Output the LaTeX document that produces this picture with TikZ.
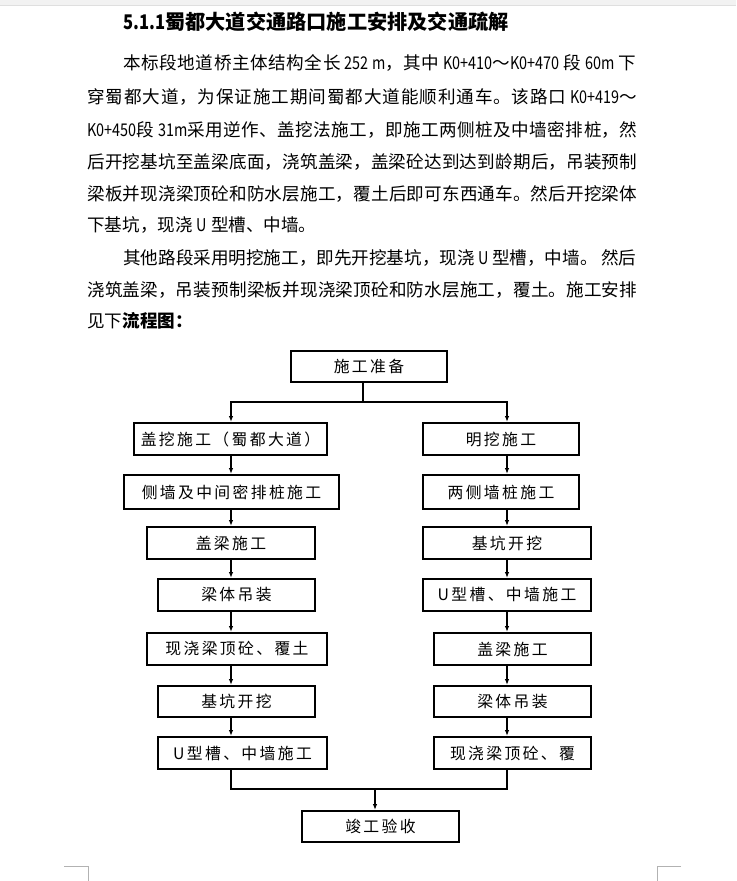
\documentclass[tikz,border=0pt]{standalone}
\usepackage{fontspec}
\setmainfont{Noto Sans CJK SC}
\newfontfamily\boxfont[LetterSpace=15]{Noto Sans CJK SC}
\newfontfamily\halffont[FakeStretch=0.82]{Noto Sans CJK SC}
\usetikzlibrary{arrows.meta}
\XeTeXlinebreaklocale "zh"
\XeTeXlinebreakskip=0pt plus 4pt
\newcommand{\hw}[1]{{\halffont #1}}
\newcommand{\jline}[2]{\parbox{#1}{\parfillskip=0pt\relax #2}}

\begin{document}
\begin{tikzpicture}[x=0.02cm,y=-0.02cm,
 stepbox/.style={draw,line width=1.1pt,minimum height=0.64cm,inner sep=0pt,align=center,font=\boxfont\fontsize{9}{10}\selectfont},
 bodyline/.style={anchor=west,inner sep=0pt,font=\fontsize{10}{12}\selectfont},
 ln/.style={line width=0.7pt},
 arr/.style={-{Latex[length=1.2mm,width=0.9mm]},line width=0.7pt}]
\useasboundingbox (0,0) rectangle (736,881);
\fill[gray!10] (0,0) rectangle (736,5);
\draw[gray!25] (0,5) -- (736,5);

% text above the chart
\node[bodyline,font=\bfseries\fontsize{11.5}{13}\selectfont] (title) at (123,22) {\hw{5.1.1}蜀都大道交通路口施工安排及交通疏解};
\node[bodyline] (ln1) at (123,63) {\jline{10.26cm}{本标段地道桥主体结构全长 \hw{252 m}，其中 \hw{K0+410}～\hw{K0+470} 段 \hw{60m} 下}};
\node[bodyline] (ln2) at (87,97) {\jline{11cm}{穿蜀都大道，为保证施工期间蜀都大道能顺利通车。该路口 \hw{K0+419}～}};
\node[bodyline] (ln3) at (87,130) {\jline{11cm}{\hw{K0+450}段 \hw{31m}采用逆作、盖挖法施工，即施工两侧桩及中墙密排桩，然}};
\node[bodyline] (ln4) at (87,162) {\jline{11cm}{后开挖基坑至盖梁底面，浇筑盖梁，盖梁砼达到达到龄期后，吊装预制}};
\node[bodyline] (ln5) at (87,194) {\jline{11cm}{梁板并现浇梁顶砼和防水层施工，覆土后即可东西通车。然后开挖梁体}};
\node[bodyline] (ln6) at (87,225) {下基坑，现浇 \hw{U} 型槽、中墙。};
\node[bodyline] (ln7) at (123,258) {\jline{10.26cm}{其他路段采用明挖施工，即先开挖基坑，现浇 \hw{U} 型槽，中墙。 然后}};
\node[bodyline] (ln8) at (87,290) {\jline{11cm}{浇筑盖梁，吊装预制梁板并现浇梁顶砼和防水层施工，覆土。施工安排}};
\node[bodyline] (ln9) at (87,321) {见下\textbf{流程图：}};

% flow chart
\node[stepbox,minimum width=3.12cm,minimum height=0.62cm] (prep) at (369,366.5) {施工准备};

\node[stepbox,minimum width=3.86cm] (gw1) at (230.5,439) {盖挖施工（蜀都大道）};
\node[stepbox,minimum width=4.30cm,minimum height=0.68cm] (gw2) at (231.5,492) {侧墙及中间密排桩施工};
\node[stepbox,minimum width=3.36cm] (gw3) at (231,543) {盖梁施工};
\node[stepbox,minimum width=3.14cm] (gw4) at (236.5,595) {梁体吊装};
\node[stepbox,minimum width=3.60cm] (gw5) at (237,649) {现浇梁顶砼、覆土};
\node[stepbox,minimum width=3.14cm,minimum height=0.62cm] (gw6) at (236.5,701.5) {基坑开挖};
\node[stepbox,minimum width=3.38cm] (gw7) at (242.5,753) {U型槽、中墙施工};

\node[stepbox,minimum width=3.12cm] (mw1) at (501,439) {明挖施工};
\node[stepbox,minimum width=3.12cm,minimum height=0.68cm] (mw2) at (501,492) {两侧墙桩施工};
\node[stepbox,minimum width=3.36cm] (mw3) at (507,543) {基坑开挖};
\node[stepbox,minimum width=3.36cm] (mw4) at (507,595) {U型槽、中墙施工};
\node[stepbox,minimum width=3.14cm] (mw5) at (512.5,649) {盖梁施工};
\node[stepbox,minimum width=3.14cm,minimum height=0.62cm] (mw6) at (512.5,701.5) {梁体吊装};
\node[stepbox,minimum width=3.14cm] (mw7) at (512.5,753) {现浇梁顶砼、覆};

\node[stepbox,minimum width=3.14cm,minimum height=0.62cm] (done) at (380.5,826.5) {竣工验收};

\coordinate (fork) at (363,402);
\coordinate (join) at (375,789);
\coordinate (colL) at (231,0);
\coordinate (colR) at (507,0);

\draw[ln] (prep.south -| fork) -- (fork);
\draw[arr] (fork) -| (gw1.north -| colL);
\draw[arr] (fork) -| (mw1.north -| colR);
\foreach \a/\b in {gw1/gw2,gw2/gw3,gw3/gw4,gw4/gw5,gw5/gw6,gw6/gw7}
  \draw[arr] (\a.south -| colL) -- (\b.north -| colL);
\foreach \a/\b in {mw1/mw2,mw2/mw3,mw3/mw4,mw4/mw5,mw5/mw6,mw6/mw7}
  \draw[arr] (\a.south -| colR) -- (\b.north -| colR);
\draw[ln] (gw7.south -| colL) |- (join) -| (mw7.south -| colR);
\draw[arr] (join) -- (done.north -| join);

\draw[gray!60,line width=0.5pt] (64,866) -- (88,866) -- (88,881);
\draw[gray!60,line width=0.5pt] (681,866) -- (657,866) -- (657,881);
\end{tikzpicture}
\end{document}
